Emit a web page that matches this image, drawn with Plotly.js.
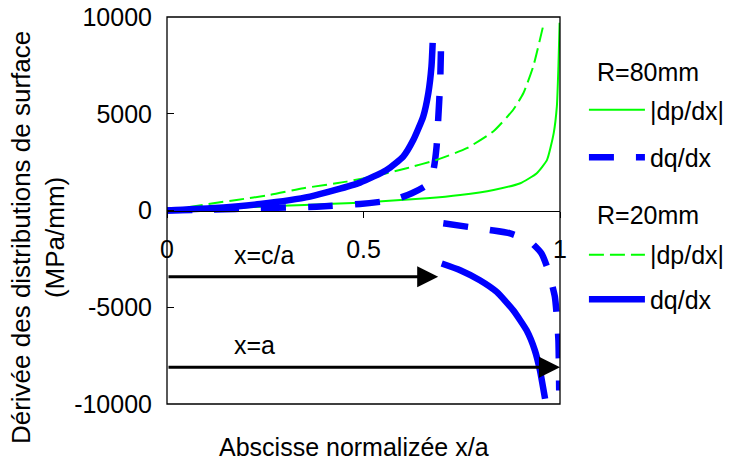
<!DOCTYPE html>
<html>
<head>
<meta charset="utf-8">
<script src="https://cdn.plot.ly/plotly-3.0.1.min.js"></script>
<style>html,body{margin:0;padding:0;background:#fff;}#chart{width:729px;height:463px;}</style>
</head>
<body>
<div id="chart"></div>
<script>
// R = 80 mm, |dp/dx|
const x80dp = [0, 0.10, 0.237, 0.35, 0.491, 0.661, 0.746, 0.831, 0.899, 0.941, 0.967, 0.984, 0.992, 0.996, 0.999];
const y80dp = [0, 80, 197, 290, 404, 632, 803, 1062, 1409, 1927, 2617, 4000, 5378, 7451, 9700];
// R = 80 mm, dq/dx
const x80dq = [0, 0.109, 0.237, 0.381, 0.491, 0.576, 0.623, 0.661, 0.678, 0.686, 0.690, 0.695, 0.697, null, 0.703, 0.822, 0.873, 0.924, 0.953, 0.970, 0.987, 0.992, 0.996, 0.998];
const y80dq = [0, 50, 114, 197, 337, 544, 891, 1321, 2098, 3306, 4689, 6591, 8228, null, -663, -1010, -1183, -1615, -2219, -3083, -4466, -5503, -6710, -9300];
// R = 20 mm, |dp/dx|
const x20dp = [0, 0.118, 0.177, 0.262, 0.347, 0.457, 0.542, 0.610, 0.686, 0.763, 0.830, 0.881, 0.907, 0.932, 0.958];
const y20dp = [0, 373, 544, 803, 1150, 1492, 1839, 2185, 2617, 3223, 4083, 5207, 6072, 7451, 9611];
// R = 20 mm, dq/dx
const x20dq = [0, 0.109, 0.237, 0.364, 0.491, 0.559, 0.601, 0.627, 0.652, 0.665, 0.673, 0.676, null, 0.699, 0.746, 0.796, 0.839, 0.881, 0.915, 0.936, 0.949, 0.962];
const y20dq = [0, 114, 337, 715, 1440, 2098, 2788, 3653, 4860, 6072, 7451, 8663, null, -2737, -3083, -3601, -4207, -5155, -6192, -7228, -8264, -9731];

const xTicks = [0, 0.5, 1];
const xTickText = ['0', '0.5', '1'];
const yTicks = [-10000, -5000, 0, 5000, 10000];
const yTickText = ['-10000', '-5000', '0', '5000', '10000'];

const groupR80 = 'R=80mm';
const groupR20 = 'R=20mm';
const seriesNames = ['|dp/dx|', 'dq/dx'];

const arrowCY = -3430, arrowCEnd = 0.69;
const arrowAY = -8100, arrowAEnd = 1.0;

const FONT = 'Liberation Sans, Arial, Helvetica, sans-serif';
const GREEN = '#00ff00', BLUE = '#0000ff';

const traces = [
  {x: x80dp, y: y80dp, name: seriesNames[0], mode: 'lines', connectgaps: false, legend: 'legend', legendgroup: 'a',
   line: {color: GREEN, width: 2, shape: 'spline', smoothing: 0.5}},
  {x: x80dq, y: y80dq, name: seriesNames[1], mode: 'lines', connectgaps: false, legend: 'legend', legendgroup: 'b',
   line: {color: BLUE, width: 6.5, dash: '25px,22px', shape: 'spline', smoothing: 0.5}},
  {x: x20dp, y: y20dp, name: seriesNames[0], mode: 'lines', connectgaps: false, legend: 'legend2', legendgroup: 'c',
   line: {color: GREEN, width: 2, dash: '15px,6px', shape: 'spline', smoothing: 0.5}},
  {x: x20dq, y: y20dq, name: seriesNames[1], mode: 'lines', connectgaps: false, legend: 'legend2', legendgroup: 'd',
   line: {color: BLUE, width: 6.5, shape: 'spline', smoothing: 0.5}}
];

const legendBase = {
  xref: 'container', yref: 'container', xanchor: 'left', yanchor: 'top',
  font: {family: FONT, size: 25, color: '#000'}, traceorder: 'grouped',
  itemwidth: 56, bgcolor: 'rgba(0,0,0,0)', borderwidth: 0
};

const layout = {
  width: 729, height: 463,
  margin: {l: 167, r: 169, t: 17, b: 59, pad: 0},
  paper_bgcolor: '#fff', plot_bgcolor: '#fff',
  font: {family: FONT, size: 25, color: '#000'},
  showlegend: true,
  legend: Object.assign({}, legendBase, {x: 0.801, y: 0.812, tracegroupgap: 12}),
  legend2: Object.assign({}, legendBase, {x: 0.801, y: 0.499, tracegroupgap: 9}),
  xaxis: {range: [0, 1], anchor: 'free', position: 0.5, showline: true, linecolor: '#000', linewidth: 1.5,
    tickvals: xTicks, ticktext: xTickText, ticks: 'outside', ticklen: 6, tickcolor: '#000',
    tickfont: {family: FONT, size: 25, color: '#000'}, ticklabelstandoff: 10,
    showgrid: false, zeroline: false, fixedrange: true},
  yaxis: {range: [-10000, 10000], showline: false,
    tickvals: yTicks, ticktext: yTickText, ticks: 'inside', ticklen: 7, tickcolor: '#000',
    tickfont: {family: FONT, size: 25, color: '#000'}, ticklabelstandoff: 14,
    showgrid: false, zeroline: false, fixedrange: true},
  shapes: [
    {type: 'rect', xref: 'paper', yref: 'paper', x0: 0, x1: 1, y0: 0, y1: 1,
     line: {color: '#000', width: 1.3}, fillcolor: 'rgba(0,0,0,0)'}
  ],
  annotations: [
    {xref: 'paper', yref: 'paper', x: 1.089, y: 0.858, xanchor: 'left', yanchor: 'middle',
     text: groupR80, showarrow: false, font: {family: FONT, size: 25, color: '#000'}},
    {xref: 'paper', yref: 'paper', x: 1.089, y: 0.488, xanchor: 'left', yanchor: 'middle',
     text: groupR20, showarrow: false, font: {family: FONT, size: 25, color: '#000'}},
    {xref: 'paper', yref: 'paper', x: -0.328, y: 0.429, xanchor: 'center', yanchor: 'middle',
     text: 'Dérivée des distributions de surface<br>(MPa/mm)', textangle: -90, showarrow: false,
     font: {family: FONT, size: 26, color: '#000'}},
    {xref: 'paper', yref: 'paper', x: 0.476, y: -0.111, xanchor: 'center', yanchor: 'middle',
     text: 'Abscisse normalizée x/a', showarrow: false, font: {family: FONT, size: 25, color: '#000'}},
    {xref: 'x', yref: 'y', x: arrowCEnd, y: arrowCY, axref: 'x', ayref: 'y', ax: 0, ay: arrowCY,
     showarrow: true, arrowhead: 2, arrowsize: 1.4, arrowwidth: 3, arrowcolor: '#000', text: ''},
    {xref: 'x', yref: 'y', x: arrowAEnd, y: arrowAY, axref: 'x', ayref: 'y', ax: 0, ay: arrowAY,
     showarrow: true, arrowhead: 2, arrowsize: 1.4, arrowwidth: 3, arrowcolor: '#000', text: ''},
    {xref: 'x', yref: 'y', x: 0.247, y: -2306, xanchor: 'center', yanchor: 'middle',
     text: 'x=c/a', showarrow: false, font: {family: FONT, size: 25, color: '#000'}},
    {xref: 'x', yref: 'y', x: 0.222, y: -6950, xanchor: 'center', yanchor: 'middle',
     text: 'x=a', showarrow: false, font: {family: FONT, size: 25, color: '#000'}}
  ]
};

Plotly.newPlot('chart', traces, layout, {staticPlot: true, displayModeBar: false});
</script>
</body>
</html>
